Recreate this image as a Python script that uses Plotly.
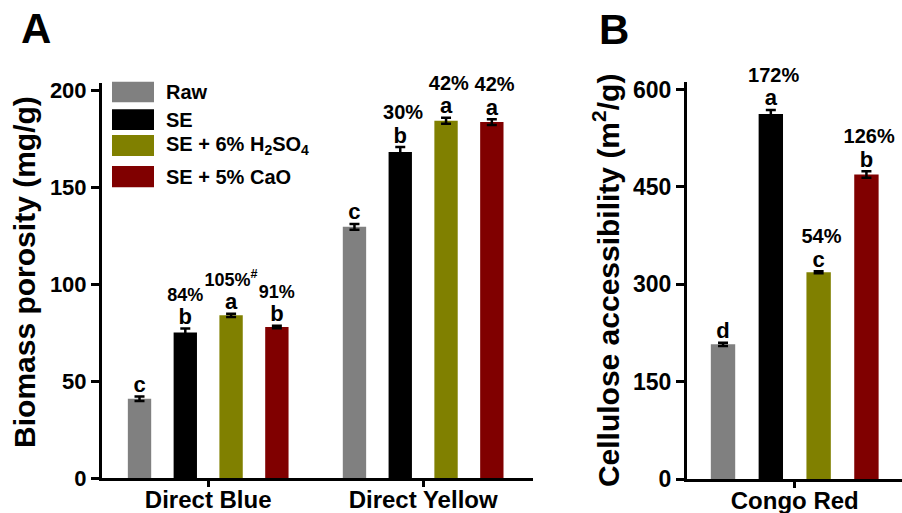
import plotly.graph_objects as go

FONT = "Liberation Sans, Arial, sans-serif"
W, H = 902, 513

# ---------------- data ----------------
series = ["Raw", "SE", "SE + 6% H<sub>2</sub>SO<sub>4</sub>", "SE + 5% CaO"]
colors = ["#808080", "#000000", "#808000", "#800000"]

dyes_a = ["Direct Blue", "Direct Yellow"]
porosity = [[41.0, 129.6], [75.2, 168.2], [84.0, 184.3], [78.0, 183.6]]
porosity_err = [[1.2, 1.5], [2.0, 2.5], [0.8, 1.5], [0.6, 1.5]]
letters_a = [["c", "c"], ["b", "b"], ["a", "a"], ["b", "a"]]
pct_a = [["", ""], ["84%", "30%"], ["105%<sup>#</sup>", "42%"], ["91%", "42%"]]

dye_b = ["Congo Red"]
accessibility = [[207.4], [562.4], [318.5], [469.1]]
access_err = [[2.5], [6.0], [1.5], [5.0]]
letters_b = [["d"], ["a"], ["c"], ["b"]]
pct_b = [[""], ["172%"], ["54%"], ["126%"]]

yticks_a = [0, 50, 100, 150, 200]
yticks_b = [0, 150, 300, 450, 600]

NB = "\u00a0"


def px_x(p):
    return p / W


def px_y(p):
    return 1 - p / H


def label_text(pct, letter, pad=1, size=19):
    let = f'<span style="font-size:22px">{letter}</span>'
    if not pct:
        return f"<b>{let}</b>"
    p = f'<span style="font-size:{size}px">{NB * pad}{pct}</span>'
    return f"<b>{p}<br>{let}</b>"


fig = go.Figure()

# first group (Direct Blue) labels are tightly packed: no padding, slightly smaller percentages
pad_a = [0, 1]
size_a = [18, 20]

for i, name in enumerate(series):
    fig.add_trace(go.Bar(
        x=dyes_a, y=porosity[i], name=name, marker_color=colors[i],
        marker_line_width=0, offsetgroup=str(i), showlegend=False,
        error_y=dict(type="data", array=porosity_err[i], color="black", thickness=2.5, width=5),
        xaxis="x", yaxis="y"))
    fig.add_trace(go.Scatter(
        x=dyes_a, y=[v + e for v, e in zip(porosity[i], porosity_err[i])],
        mode="text",
        text=[label_text(p, l, k, s) for p, l, k, s in zip(pct_a[i], letters_a[i], pad_a, size_a)],
        textposition="top center", textfont=dict(size=18, color="black", family=FONT),
        offsetgroup=str(i), cliponaxis=False, showlegend=False, hoverinfo="skip",
        xaxis="x", yaxis="y"))

for i, name in enumerate(series):
    fig.add_trace(go.Bar(
        x=dye_b, y=accessibility[i], name=name, marker_color=colors[i],
        marker_line_width=0, offsetgroup=str(i), showlegend=False,
        error_y=dict(type="data", array=access_err[i], color="black", thickness=2.5, width=5),
        xaxis="x2", yaxis="y2"))
    fig.add_trace(go.Scatter(
        x=dye_b, y=[v + e for v, e in zip(accessibility[i], access_err[i])],
        mode="text", text=[label_text(p, l, 1, 20) for p, l in zip(pct_b[i], letters_b[i])],
        textposition="top center", textfont=dict(size=18, color="black", family=FONT),
        offsetgroup=str(i), cliponaxis=False, showlegend=False, hoverinfo="skip",
        xaxis="x2", yaxis="y2"))

bargap = 0.148
line_common = dict(showline=True, linewidth=3, linecolor="black", ticks="outside",
                   tickwidth=3, tickcolor="black", showgrid=False, zeroline=False,
                   automargin=False)
xtickfont = dict(size=24, color="black", family=FONT, weight="bold")

fig.update_layout(
    template="none",
    width=W, height=H, margin=dict(l=0, r=0, t=0, b=0, pad=0),
    paper_bgcolor="white", plot_bgcolor="white",
    font=dict(family=FONT, color="black"),
    barmode="group", bargap=bargap, bargroupgap=0.49,
    scattermode="group", scattergap=bargap,
    showlegend=False,
    xaxis=dict(domain=[px_x(102), px_x(533)], type="category", range=[-0.494, 1.511],
               ticklen=6, ticklabelstandoff=-8, anchor="y", tickfont=xtickfont, **line_common),
    yaxis=dict(domain=[px_y(478.3), px_y(82.5)], range=[0, 204], tickvals=yticks_a,
               ticklen=8, anchor="x", tickfont=dict(size=22, color="black", family=FONT, weight="bold"),
               title=dict(text=f"<b>{NB}{NB}Biomass porosity (mg/g)</b>",
                          font=dict(size=30, family=FONT, color="black"), standoff=6),
               **line_common),
    xaxis2=dict(domain=[px_x(687), 1.0], type="category", range=[-0.48, 0.478],
                ticklen=6, ticklabelstandoff=-8, anchor="y2", tickfont=xtickfont, **line_common),
    yaxis2=dict(domain=[px_y(479), px_y(81.7)], range=[0, 612], tickvals=yticks_b,
                ticklen=8, anchor="x2", tickfont=dict(size=23, color="black", family=FONT, weight="bold"),
                title=dict(text="<b>Cellulose accessibility (m<sup>2</sup>/g)</b>",
                           font=dict(size=30, family=FONT, color="black"), standoff=5),
                **line_common),
)

# panel letters
fig.add_annotation(x=px_x(36), y=px_y(28.3), xref="paper", yref="paper", text="<b>A</b>",
                   xanchor="center", yanchor="middle",
                   showarrow=False, font=dict(size=42, family=FONT, color="black"))
fig.add_annotation(x=px_x(613.5), y=px_y(29), xref="paper", yref="paper", text="<b>B</b>",
                   xanchor="center", yanchor="middle",
                   showarrow=False, font=dict(size=42, family=FONT, color="black"))

# custom legend (large swatches as in the original)
legend_rows = [(81.7, 102.3), (109.3, 130), (135, 156), (166, 187.3)]
for (top, bottom), name, col in zip(legend_rows, series, colors):
    fig.add_shape(type="rect", xref="paper", yref="paper",
                  x0=px_x(112), x1=px_x(154), y0=px_y(bottom), y1=px_y(top),
                  fillcolor=col, line=dict(width=0))
    fig.add_annotation(x=px_x(164), y=px_y((top + bottom) / 2), xref="paper", yref="paper",
                       xanchor="left", yanchor="middle", text=f"<b>{name}</b>", showarrow=False,
                       font=dict(size=20, family=FONT, color="black"))

fig.write_html("out.html", config={"displayModeBar": False},
               post_script="document.body.style.margin='0';document.body.style.overflow='hidden';")
